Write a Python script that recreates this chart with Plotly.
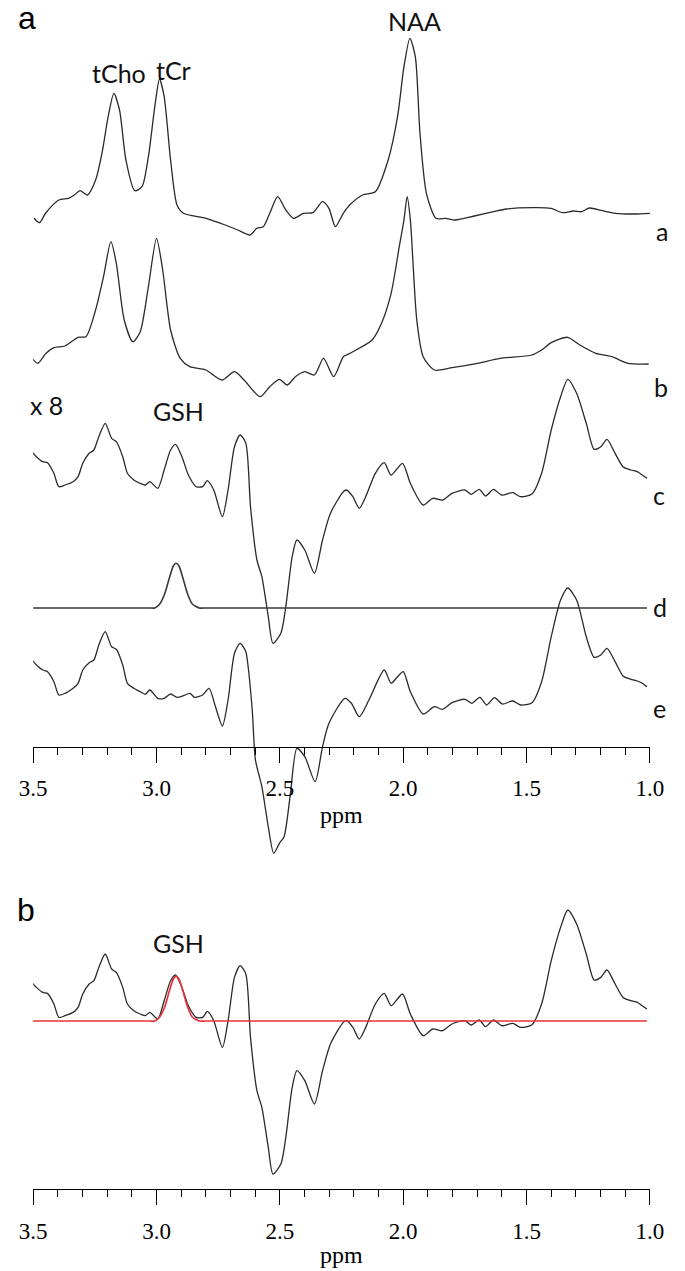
import plotly.graph_objects as go

W, H = 685, 1271

# ---------------- data (chemical shift in ppm, signal in arbitrary units) ----------------
ppm_a = [3.497, 3.474, 3.449, 3.396, 3.357, 3.333, 3.310, 3.280, 3.247, 3.221, 3.196, 3.173,
         3.150, 3.124, 3.088, 3.059, 3.033, 3.007, 2.988, 2.969, 2.943, 2.917, 2.891, 2.800,
         2.722, 2.671, 2.621, 2.593, 2.567, 2.541, 2.509, 2.476, 2.444, 2.405, 2.366, 2.327,
         2.301, 2.275, 2.243, 2.217, 2.165, 2.113, 2.061, 2.023, 1.997, 1.973, 1.951, 1.932,
         1.906, 1.867, 1.828, 1.789, 1.712, 1.634, 1.582, 1.478, 1.400, 1.355, 1.310, 1.277,
         1.245, 1.193, 1.141, 1.063, 0.999]
sig_a = [-0.3, -4.7, 5, 18, 19.7, 23, 27.3, 23, 38, 65, 101.3, 124.7,
         108, 58, 27.3, 31.3, 61.3, 111.3, 139, 121.3, 58, 13, 4.7, -0.3,
         -7, -12, -17, -10.3, -8.7, 4.7, 21.3, 8, -0.3, 4.7, 5.3, 16.3,
         9.7, -8.7, 4.7, 13, 23, 26.3, 58, 101.3, 151.3, 179.7, 161.3, 84.7,
         24.7, -0.3, -0.3, -2, 2, 6.3, 9, 10.3, 9.7, 5.3, 7, 6.3,
         10, 7.3, 4.7, 4, 4.7]

ppm_b = [3.510, 3.481, 3.448, 3.416, 3.371, 3.318, 3.286, 3.247, 3.215, 3.185, 3.163, 3.131,
         3.096, 3.066, 3.033, 3.000, 2.975, 2.943, 2.904, 2.865, 2.800, 2.735, 2.684, 2.645,
         2.580, 2.541, 2.502, 2.470, 2.437, 2.399, 2.360, 2.323, 2.282, 2.243, 2.230, 2.204,
         2.126, 2.088, 2.049, 2.016, 1.997, 1.984, 1.971, 1.945, 1.919, 1.874, 1.802, 1.699,
         1.608, 1.478, 1.439, 1.400, 1.333, 1.284, 1.219, 1.154, 1.089, 1.005]
sig_b = [9.3, 2.7, 12.7, 18.3, 20, 28.7, 29.3, 56, 89.3, 124.3, 102.7, 46,
         24.3, 34.3, 79.3, 127.7, 96, 36, 7.7, -0.7, -4, -14, -5.7, -14,
         -30.7, -20.7, -13.3, -19, -10.7, -5.7, -9, 7.7, -10.7, 9.3, 11, 14.3,
         26, 42.7, 72.7, 119.3, 146, 169.3, 146, 46, 9.3, -4, -1.7, 2.7,
         7.7, 11, 16, 23.3, 28.7, 21, 12.7, 9.3, 2.7, 2]

# c: difference spectrum (x 8), also shown in panel b
ppm_c = [3.513, 3.487, 3.461, 3.442, 3.416, 3.396, 3.371, 3.338, 3.318, 3.299, 3.273, 3.254,
         3.234, 3.208, 3.182, 3.163, 3.137, 3.118, 3.092, 3.066, 3.046, 3.027, 2.995, 2.969,
         2.943, 2.923, 2.897, 2.871, 2.839, 2.813, 2.794, 2.768, 2.733, 2.710, 2.684, 2.661,
         2.638, 2.619, 2.593, 2.573, 2.547, 2.528, 2.496, 2.476, 2.450, 2.431, 2.399, 2.360,
         2.327, 2.295, 2.243, 2.230, 2.204, 2.178, 2.152, 2.113, 2.077, 2.049, 2.003, 1.971,
         1.919, 1.880, 1.841, 1.802, 1.750, 1.724, 1.692, 1.666, 1.634, 1.601, 1.556, 1.524,
         1.478, 1.439, 1.400, 1.362, 1.333, 1.297, 1.258, 1.226, 1.199, 1.174, 1.141, 1.109,
         1.077, 1.051, 1.031, 1.012]
sig_c = [41, 33.6, 28.6, 27.6, 17, 3.6, 5.3, 8.6, 13.6, 27, 37, 40.3,
         53.6, 67, 52, 48.6, 33.6, 17, 10.3, 7, 5.3, 8.6, 2, 20.3,
         40.3, 46, 33.6, 15.3, 3.6, 3.6, 9.6, 0.3, -26.4, 0.3, 43.6, 55.3,
         47, -16.4, -69.7, -86.4, -126.4, -153, -143, -116.4, -66.4, -49.7, -59.7, -83,
         -49.7, -23, -1.4, 0.3, -6.4, -18, -6.4, 17, 27.6, 15.3, 27, 7,
         -14.7, -8, -9.7, -3, 0.3, -4, 1, -5.7, 1, -4.7, -2.4, -6.4,
         -3.7, 17, 60.3, 93.6, 111, 97, 67, 41, 43.6, 51, 37, 23.6,
         20.3, 18.6, 15.3, 12]

# d: fitted GSH model
ppm_d = [3.513, 3.300, 3.100, 3.030, 3.007, 2.987, 2.967, 2.948, 2.932, 2.921, 2.909, 2.893,
         2.874, 2.855, 2.827, 2.800, 2.600, 2.300, 2.000, 1.700, 1.400, 1.200, 1.012]
sig_d = [0, 0, 0, 0, 0, 4, 14, 30, 42, 44.7, 42, 30,
         14, 4, 0, 0, 0, 0, 0, 0, 0, 0, 0]

# e: residual
ppm_e = [3.513, 3.487, 3.461, 3.442, 3.416, 3.396, 3.371, 3.338, 3.318, 3.299, 3.273, 3.254,
         3.234, 3.208, 3.182, 3.163, 3.137, 3.118, 3.092, 3.066, 3.046, 3.027, 2.995, 2.969,
         2.943, 2.917, 2.891, 2.865, 2.846, 2.813, 2.787, 2.761, 2.733, 2.710, 2.684, 2.661,
         2.638, 2.632, 2.612, 2.599, 2.573, 2.547, 2.525, 2.502, 2.483, 2.457, 2.431, 2.399,
         2.357, 2.327, 2.301, 2.236, 2.210, 2.178, 2.139, 2.077, 2.049, 2.023, 2.000, 1.971,
         1.919, 1.874, 1.841, 1.802, 1.750, 1.722, 1.689, 1.662, 1.630, 1.598, 1.556, 1.524,
         1.478, 1.439, 1.400, 1.362, 1.333, 1.297, 1.258, 1.226, 1.199, 1.174, 1.141, 1.109,
         1.077, 1.051, 1.031, 1.012]
sig_e = [41.4, 33.7, 28.7, 27, 17, 3.7, 5.4, 10.4, 15.4, 28.7, 36, 38.7,
         53.7, 67, 52, 49.4, 33.7, 15.4, 10.4, 7, 4.4, 8.7, 0.4, 0.4,
         4.7, 1.4, 3, 5.4, 1.4, 3.7, 10.4, -8, -27.3, -1.3, 45.4, 55.4,
         47, 38.7, -11.3, -61.3, -88, -128, -154.6, -144.6, -138, -94.6, -49.6, -58,
         -83, -48, -24.6, 0.4, -4.6, -18, -1.3, 28.7, 15.4, 22, 27, 7,
         -15.3, -8, -10.6, -4, -0.6, -4.6, 1.4, -6.3, 1, -5.3, -2.3, -6.3,
         -4, 17, 62, 98.7, 110.7, 98.7, 62, 41.4, 43.7, 50.4, 37, 22.7,
         19.4, 17.7, 15.4, 12]

trace_names = ["a", "b", "c", "d", "e"]
tick_vals = [3.5, 3.0, 2.5, 2.0, 1.5, 1.0]
tick_text = ["3.5", "3.0", "2.5", "2.0", "1.5", "1.0"]

# ---------------- layout constants (stacking offsets, in display units) ----------------
OFFSET = {"a": -218, "b": -366, "c": -490.3, "d": -608, "e": -698.7}
OFFSET_B = -1021          # baseline of the panel-b spectrum

TOP_Y_RANGE = [-870, 0]
BOT_Y_RANGE = [-1271, -880]
X_DOMAIN = [20 / W, 663 / W]
TOP_AXIS_PX = 746.7
BOT_AXIS_PX = 1189.3

BLACK = "#2a2a2a"
RED = "#e8353b"

fig = go.Figure()

data = {"a": (ppm_a, sig_a), "b": (ppm_b, sig_b), "c": (ppm_c, sig_c),
        "d": (ppm_d, sig_d), "e": (ppm_e, sig_e)}
for name in trace_names:
    xs, ys = data[name]
    fig.add_trace(go.Scatter(
        x=xs, y=[v + OFFSET[name] for v in ys], mode="lines",
        line=dict(color="#3a3a3a" if name == "d" else BLACK,
                  width=1.6 if name == "d" else 1.3,
                  shape="spline", smoothing=0.6 if name == "d" else 0.7),
        xaxis="x", yaxis="y", hoverinfo="skip", showlegend=False))

# panel b: spectrum c with the fitted GSH model (d) in red
fig.add_trace(go.Scatter(
    x=ppm_c, y=[v + OFFSET_B for v in sig_c], mode="lines",
    line=dict(color=BLACK, width=1.3, shape="spline", smoothing=0.7),
    xaxis="x2", yaxis="y2", hoverinfo="skip", showlegend=False))
fig.add_trace(go.Scatter(
    x=ppm_d, y=[v + OFFSET_B for v in sig_d], mode="lines",
    line=dict(color=RED, width=1.7, shape="spline", smoothing=0.6),
    xaxis="x2", yaxis="y2", hoverinfo="skip", showlegend=False))

axis_common = dict(
    range=[3.5, 1.0], domain=X_DOMAIN, anchor="free",
    showline=True, linecolor="black", linewidth=1,
    ticks="outside", ticklen=15, tickwidth=1, tickcolor="black",
    tickvals=tick_vals, ticktext=tick_text,
    minor=dict(dtick=0.1, tick0=1.0, ticks="outside", ticklen=7, tickwidth=1,
               tickcolor="black", showgrid=False),
    showgrid=False, zeroline=False,
    tickfont=dict(family="Liberation Serif", size=23, color="black"),
    ticklabelstandoff=6,
)

fig.update_layout(
    width=W, height=H,
    margin=dict(l=0, r=0, t=0, b=0),
    paper_bgcolor="white", plot_bgcolor="white",
    xaxis=dict(**axis_common, position=1 - TOP_AXIS_PX / H),
    xaxis2=dict(**axis_common, position=1 - BOT_AXIS_PX / H),
    yaxis=dict(domain=[1 - 870 / H, 1.0], range=TOP_Y_RANGE, visible=False),
    yaxis2=dict(domain=[0, 1 - 880 / H], range=BOT_Y_RANGE, visible=False),
)


def ann(text, px, py, size, family="Lato", color="#111111"):
    fig.add_annotation(text=text, x=px / W, y=1 - py / H, xref="paper", yref="paper",
                       xanchor="center", yanchor="middle", showarrow=False,
                       font=dict(family=family, size=size, color=color))


# panel letters
ann("a", 14, 18, 32, family="Liberation Sans", color="black")
ann("b", 13, 910, 32, family="Liberation Sans", color="black")
# peak labels
ann("tCho", 109, 73, 25)
ann("tCr", 166, 69.5, 25)
ann("NAA", 417.5, 21, 25)
ann("x 8", 34, 404.5, 25)
ann("GSH", 171.7, 411, 25)
ann("GSH", 171.7, 943, 25)
# trace letters
for name, px, py in zip(trace_names, [676, 675, 673, 674, 673.5], [231, 386.5, 495, 606.5, 708]):
    ann(name, px, py, 25)
# axis titles
ann("ppm", 341, 815, 24, family="Liberation Serif", color="black")
ann("ppm", 341, 1255, 24, family="Liberation Serif", color="black")

fig.write_html("out.html", config={"displayModeBar": False},
               post_script="document.body.style.margin='0';document.body.style.overflow='hidden';")
